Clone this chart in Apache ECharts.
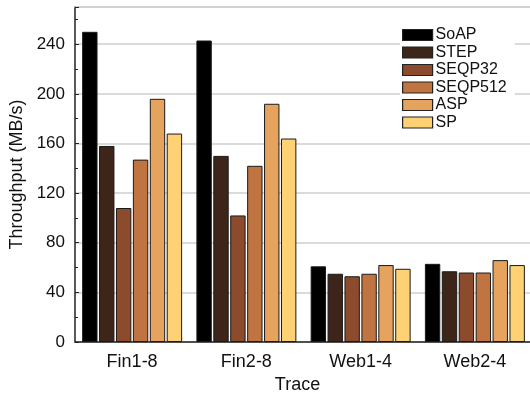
<!DOCTYPE html>
<html>
<head>
<meta charset="utf-8">
<script src="https://cdn.jsdelivr.net/npm/echarts@6/dist/echarts.min.js"></script>
<style>
  html, body { margin: 0; padding: 0; background: #fff; }
  #chart { width: 530px; height: 394px; }
</style>
</head>
<body>
<div id="chart"></div>
<script>
// Throughput per trace for each scheduling scheme
const traces = ['Fin1-8', 'Fin2-8', 'Web1-4', 'Web2-4'];
const schemes = ['SoAP', 'STEP', 'SEQP32', 'SEQP512', 'ASP', 'SP'];
const soap    = [250, 243, 61, 63];
const step    = [158, 150, 55, 57];
const seqp32  = [108, 102, 53, 56];
const seqp512 = [147, 142, 55, 56];
const asp     = [196, 192, 62, 66];
const sp      = [168, 164, 59, 62];
const yTicks  = [0, 40, 80, 120, 160, 200, 240];

const values = [soap, step, seqp32, seqp512, asp, sp];
const colors = ['#000000', '#3e2519', '#8b4b2c', '#c07442', '#e5a35e', '#fed274'];
const fontFamily = '"Liberation Sans", Arial, sans-serif';

const chart = echarts.init(document.getElementById('chart'));
chart.setOption({
  animation: false,
  textStyle: { fontFamily },
  grid: { left: 75, right: -2, top: 7, bottom: 52, containLabel: false, outerBoundsMode: 'none' },
  legend: {
    orient: 'vertical',
    left: 400, top: 23,
    icon: 'rect',
    itemWidth: 30, itemHeight: 11,
    itemGap: 1.5,
    backgroundColor: '#fff',
    padding: [4, 8, 4, 2],
    textStyle: { fontSize: 16, color: '#111', padding: [0, 0, 0, -2] },
    data: schemes,
    itemStyle: { borderColor: '#222', borderWidth: 1.2 }
  },
  xAxis: [{
    type: 'category',
    data: traces,
    name: 'Trace',
    nameLocation: 'middle',
    nameGap: 33,
    nameTextStyle: { fontSize: 18, color: '#111', padding: [0, 12, 0, 0] },
    axisLine: { lineStyle: { color: '#222', width: 1.5 } },
    axisTick: { inside: true, length: 4, lineStyle: { color: '#222' } },
    axisLabel: { fontSize: 18, color: '#111', margin: 11 }
  }, {
    type: 'category',
    position: 'top',
    data: traces,
    axisLine: { show: true, lineStyle: { color: '#cfcfcf', width: 1.5 } },
    axisTick: { show: false },
    axisLabel: { show: false }
  }],
  yAxis: {
    type: 'value',
    min: 0, max: 270, interval: 40,
    name: 'Throughput (MB/s)',
    nameLocation: 'middle',
    nameGap: 37,
    nameTextStyle: { fontSize: 18, color: '#111' },
    axisLine: { show: true, lineStyle: { color: '#222', width: 1.5 } },
    axisTick: { show: true, inside: true, length: 4, lineStyle: { color: '#222' } },
    minorTick: { show: true, splitNumber: 2, length: 3, lineStyle: { color: '#222' } },
    splitLine: { show: true, lineStyle: { color: '#cfcfcf', width: 1.5 } },
    axisLabel: {
      fontSize: 17, color: '#111', margin: 10,
      formatter: v => (yTicks.includes(v) ? String(v) : '')
    }
  },
  series: schemes.map((name, i) => ({
    name,
    type: 'bar',
    data: values[i],
    barGap: '10%',
    barCategoryGap: '12.5%',
    itemStyle: {
      color: colors[i],
      borderColor: '#1a1a1a',
      borderWidth: 1
    }
  }))
});
</script>
</body>
</html>
